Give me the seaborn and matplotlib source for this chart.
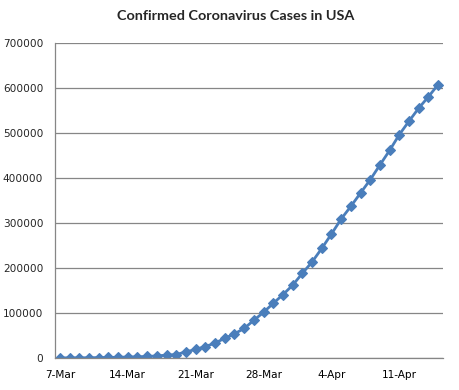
import matplotlib
matplotlib.use("Agg")
import matplotlib.pyplot as plt
import numpy as np
import pandas as pd
import seaborn as sns

# Datos: casos confirmados acumulados (7-Mar a 15-Apr)
fechas = pd.date_range("2020-03-07", "2020-04-15", freq="D")
casos = [262, 402, 518, 583, 959, 1281, 1663, 2179, 2726, 3499,
         4632, 6421, 7783, 13677, 19100, 25489, 33276, 43847, 53740, 65778,
         83836, 101657, 121478, 140886, 161807, 188172, 213372, 243453, 275586, 308850,
         337072, 366667, 396223, 429052, 461437, 496535, 526396, 555313, 580619, 607670]
etiquetas_x = ["7-Mar", "14-Mar", "21-Mar", "28-Mar", "4-Apr", "11-Apr"]
valores_y = [0, 100000, 200000, 300000, 400000, 500000, 600000, 700000]

sns.set_style("white")
plt.rcParams["font.family"] = ["DejaVu Sans"]

df = pd.DataFrame({"dia": np.arange(len(casos)), "casos": casos, "fecha": fechas})

fig, ax = plt.subplots(figsize=(4.6, 3.9), dpi=100)
fig.subplots_adjust(left=0.1196, right=0.963, top=0.8897, bottom=0.082)

gris = "#868686"
azul = "#4A7EBB"

ax.grid(axis="y", color=gris, lw=0.9, zorder=0)
ax.set_axisbelow(True)

sns.lineplot(data=df, x="dia", y="casos", ax=ax, color=azul, lw=2.0,
             marker="D", markersize=5, markeredgecolor=azul, markeredgewidth=0.8)

ax.set_xlim(-0.5, len(casos) - 0.5)
ax.set_ylim(valores_y[0], valores_y[-1])
ax.set_yticks(valores_y)
ax.set_yticklabels([str(v) for v in valores_y])

ax.set_xticks(np.arange(0, len(casos), 7))
ax.set_xticklabels(etiquetas_x)
ax.set_xticks(np.arange(-0.5, len(casos), 7), minor=True)
ax.tick_params(axis="x", which="major", length=0, pad=8.5, labelsize=7.6, colors="black")
ax.tick_params(axis="x", which="minor", length=4, width=0.9, color=gris, direction="out")
ax.tick_params(axis="y", which="major", length=5, width=0.9, color=gris, direction="out",
               pad=3.5, labelsize=7.6)

ax.set_xlabel("")
ax.set_ylabel("")
for lado in ["top", "right"]:
    ax.spines[lado].set_visible(False)
for lado in ["left", "bottom"]:
    ax.spines[lado].set_color(gris)
    ax.spines[lado].set_linewidth(0.9)

fig.text(0.513, 1 - 16 / 390, "Confirmed Coronavirus Cases in USA", ha="center", va="center",
         fontsize=10.4, fontweight="bold", family=["Lato", "DejaVu Sans"])

fig.savefig("out.png", dpi=100)
